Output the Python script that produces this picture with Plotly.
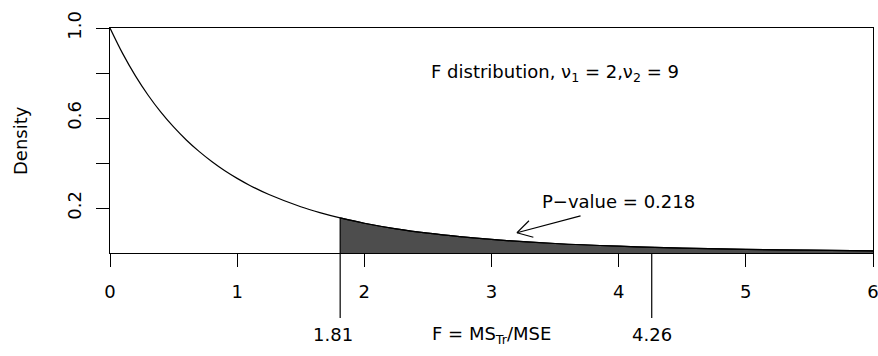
import math
import plotly.graph_objects as go

# F(2, 9) density curve, sampled along the F axis
f_vals = [0.0, 0.1, 0.2, 0.3, 0.4, 0.5, 0.6, 0.7, 0.8, 0.9, 1.0, 1.1, 1.25,
          1.5, 1.65, 1.81, 2.0, 2.25, 2.5, 2.75, 3.0, 3.5, 4.0, 4.5, 5.0, 5.5, 6.0]
density = [1.0, 0.8861, 0.7873, 0.7012, 0.6260, 0.5602, 0.5024, 0.4515, 0.4066,
           0.3668, 0.3317, 0.3004, 0.2597, 0.2055, 0.1794, 0.1558, 0.1323, 0.1075,
           0.0880, 0.0726, 0.0602, 0.0422, 0.0303, 0.0221, 0.0164, 0.0124, 0.0095]

f_obs = 1.81        # observed F statistic
f_crit = 4.26       # 5% critical value
p_value = 0.218
df1, df2 = 2, 9

x_ticks = [0, 1, 2, 3, 4, 5, 6]
y_ticks = [0.2, 0.4, 0.6, 0.8, 1.0]
y_tick_text = ["0.2", "", "0.6", "", "1.0"]

FONT = "DejaVu Sans, Liberation Sans, Arial, sans-serif"
FS = 18
W, H = 878, 356
M_L, M_R, M_T, M_B = 110, 5, 28, 103
plot_w = W - M_L - M_R
plot_h = H - M_T - M_B
x_range = [0, 6]
y_range = [0, 1]
px_per_x = plot_w / (x_range[1] - x_range[0])
px_per_y = plot_h / (y_range[1] - y_range[0])

fig = go.Figure()

# shaded upper tail beyond the observed statistic
tail_x = [x for x in f_vals if x >= f_obs]
tail_y = [d for x, d in zip(f_vals, density) if x >= f_obs]
fig.add_trace(go.Scatter(x=tail_x, y=tail_y, mode="lines",
                         line=dict(color="black", width=1.2, shape="spline"),
                         fill="tozeroy", fillcolor="#4d4d4d", hoverinfo="skip"))

# full density curve
fig.add_trace(go.Scatter(x=f_vals, y=density, mode="lines",
                         line=dict(color="black", width=1.2, shape="spline"), hoverinfo="skip"))

shapes = []
d_obs = density[f_vals.index(f_obs)]
# marker segments for the observed and critical values, running below the axis
shapes.append(dict(type="line", xref="x", yref="paper", x0=f_obs, x1=f_obs, y0=d_obs, y1=-0.289,
                   line=dict(color="black", width=1.2)))
shapes.append(dict(type="line", xref="x", yref="paper", x0=f_crit, x1=f_crit, y0=0, y1=-0.289,
                   line=dict(color="black", width=1.2)))

# arrow pointing into the shaded tail, with an open head
ax0, ay0 = 3.7, 0.165
ax1, ay1 = 3.2, 0.09
shapes.append(dict(type="line", xref="x", yref="y", x0=ax0, y0=ay0, x1=ax1, y1=ay1,
                   line=dict(color="black", width=1.1)))
dxp = (ax0 - ax1) * px_per_x
dyp = (ay0 - ay1) * px_per_y
ang = math.atan2(dyp, dxp)
head_len = 17
for a in (ang + math.radians(30), ang - math.radians(30)):
    shapes.append(dict(type="line", xref="x", yref="y", x0=ax1, y0=ay1,
                       x1=ax1 + head_len * math.cos(a) / px_per_x,
                       y1=ay1 + head_len * math.sin(a) / px_per_y,
                       line=dict(color="black", width=1.1)))

txt_font = dict(size=FS, color="black", family=FONT)
annotations = [
    dict(x=3.5, y=0.80, xref="x", yref="y", showarrow=False,
         text=f"F distribution, \u03bd<sub>1</sub> = {df1},\u03bd<sub>2</sub> = {df2}",
         font=txt_font, xanchor="center", yanchor="middle"),
    dict(x=4.0, y=0.23, xref="x", yref="y", showarrow=False,
         text=f"P\u2212value = {p_value}",
         font=txt_font, xanchor="center", yanchor="middle"),
    dict(x=1.75, y=-0.364, xref="x", yref="paper", showarrow=False, text=f"{f_obs}",
         font=txt_font, xanchor="center", yanchor="middle"),
    dict(x=f_crit, y=-0.364, xref="x", yref="paper", showarrow=False, text=f"{f_crit}",
         font=txt_font, xanchor="center", yanchor="middle"),
    dict(x=3.0, y=-0.364, xref="x", yref="paper", showarrow=False,
         text="F = MS<sub>Tr</sub>/MSE",
         font=txt_font, xanchor="center", yanchor="middle"),
    dict(x=0, y=0.5, xref="paper", yref="paper", xshift=-89.5, showarrow=False, text="Density",
         textangle=-90, font=txt_font, xanchor="center", yanchor="middle"),
]

fig.update_layout(
    width=W, height=H,
    margin=dict(l=M_L, r=M_R, t=M_T, b=M_B, pad=0, autoexpand=False),
    paper_bgcolor="white", plot_bgcolor="white",
    showlegend=False,
    shapes=shapes,
    annotations=annotations,
    font=dict(family=FONT, size=FS, color="black"),
    xaxis=dict(range=x_range, tickvals=x_ticks, ticktext=[str(t) for t in x_ticks],
               showgrid=False, zeroline=False, showline=True, mirror=True, automargin=False,
               linecolor="black", linewidth=1.2,
               ticks="outside", ticklen=13, tickwidth=1.2, tickcolor="black",
               ticklabelstandoff=9, ticklabeloverflow="allow",
               tickfont=dict(size=FS, family=FONT, color="black")),
    yaxis=dict(range=y_range, tickvals=y_ticks, ticktext=y_tick_text,
               showgrid=False, zeroline=False, showline=True, mirror=True, automargin=False,
               linecolor="black", linewidth=1.2,
               ticks="outside", ticklen=13, tickwidth=1.2, tickcolor="black",
               ticklabelstandoff=8, ticklabeloverflow="allow",
               tickangle=-90, tickfont=dict(size=FS, family=FONT, color="black")),
)

fig.write_html("out.html")
